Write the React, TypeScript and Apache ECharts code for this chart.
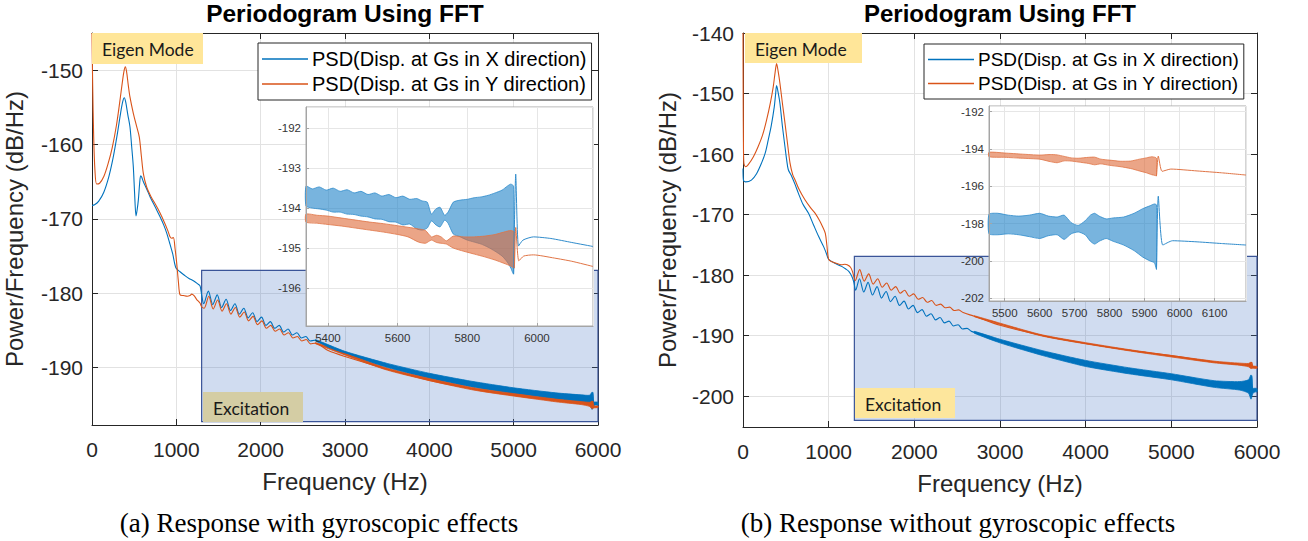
import React, { useEffect, useRef } from "react";
import * as echarts from "echarts";

const SANS = "'Liberation Sans', Arial, Helvetica, sans-serif";
const SERIF = "'Liberation Serif', 'Times New Roman', serif";
const NOTE = "Lato, 'Open Sans', sans-serif";
const BLUE = "#0072BD";
const ORANGE = "#D95319";
const INK = "#262626";

const NAME_X = "PSD(Disp. at Gs in X direction)";
const NAME_Y = "PSD(Disp. at Gs in Y direction)";
const TITLE = "Periodogram Using FFT";
const X_NAME = "Frequency (Hz)";
const Y_NAME = "Power/Frequency (dB/Hz)";
const CAPTION_A = "(a) Response with gyroscopic effects";
const CAPTION_B = "(b) Response without gyroscopic effects";
const EIGEN = "Eigen Mode";
const EXCITATION = "Excitation";

type P = [number, number];

// ---------- (a) with gyroscopic effects : main curves ----------
const aMainX: P[] = [
  [0, -168.2], [30, -168.1], [80, -167.6], [140, -166.4], [200, -164.3], [250, -161.8], [300, -158.6], [340, -155.7],
  [365, -154.2], [383, -153.7], [400, -154.3], [425, -156.0], [450, -157.6], [470, -160.2], [490, -163.0], [505, -166.5],
  [522, -169.6], [535, -168.8], [550, -167.4], [565, -165.2], [577, -164.2], [590, -164.4], [609, -165.0], [650, -166.0],
  [688, -167.0], [750, -168.4], [807, -169.7], [850, -170.8], [886, -171.9], [920, -173.2], [957, -174.7], [996, -176.6],
  [1044, -177.1], [1100, -177.6], [1150, -178.0], [1202, -178.3], [1250, -178.7], [1281, -179.0], [1300, -180.2],
  [1325, -181.4], [1380, -179.7], [1432, -181.5], [1485, -180.2], [1537, -181.9], [1590, -180.8], [1642, -182.3],
  [1695, -181.4], [1747, -182.8], [1800, -182.0], [1852, -183.3], [1905, -182.6], [1957, -183.8], [2010, -183.2],
  [2062, -184.3], [2115, -183.8], [2167, -184.7], [2220, -184.3], [2272, -185.2], [2325, -184.8], [2377, -185.6],
  [2430, -185.3], [2482, -186.0], [2535, -185.8], [2587, -186.4], [2640, -186.3],
  [2800, -187.2], [3000, -188.0], [3500, -189.7], [4000, -191.1], [4500, -192.2], [5000, -193.1], [5500, -193.8],
  [5900, -194.3], [5939, -193.3], [5950, -194.9], [6000, -194.85],
];
const aMainY: P[] = [
  [0, -145.0], [8, -152.0], [20, -159.0], [35, -163.5], [55, -165.3], [90, -165.2], [140, -164.3], [190, -162.6],
  [240, -160.4], [290, -157.4], [330, -154.2], [360, -151.6], [380, -150.1], [395, -149.55], [410, -150.2], [430, -152.0],
  [450, -153.6], [490, -155.8], [530, -157.6], [561, -159.0], [585, -161.5], [609, -163.9], [648, -165.7], [700, -167.0],
  [760, -168.2], [807, -169.2], [860, -170.5], [900, -171.6], [925, -172.4], [945, -172.6], [965, -172.5], [985, -174.0],
  [1004, -175.9], [1025, -178.5], [1044, -180.2], [1083, -180.3], [1130, -180.4], [1162, -180.3], [1182, -180.1],
  [1210, -180.3], [1240, -180.8], [1280, -181.3], [1300, -181.8],
  [1330, -182.0], [1385, -180.4], [1437, -182.1], [1490, -180.9], [1542, -182.4], [1595, -181.4], [1647, -182.8],
  [1700, -181.9], [1752, -183.2], [1805, -182.5], [1857, -183.7], [1910, -183.1], [1962, -184.2], [2015, -183.7],
  [2067, -184.7], [2120, -184.3], [2172, -185.1], [2225, -184.8], [2277, -185.6], [2330, -185.3], [2382, -186.0],
  [2435, -185.8], [2487, -186.4], [2540, -186.2], [2592, -186.8], [2645, -186.7],
  [2800, -187.7], [3000, -188.5], [3500, -190.2], [4000, -191.7], [4500, -192.8], [5000, -193.7], [5500, -194.4],
  [5900, -194.9], [5939, -194.5], [5950, -195.25], [6000, -195.25],
];
const aBandXF = [2650, 3000, 3500, 4000, 4500, 5000, 5500, 5800, 5900, 5930, 5950, 5975, 6000];
const aBandXHi = [-186.22, -187.8, -189.42, -190.75, -191.82, -192.7, -193.38, -193.65, -193.7, -193.3, -194.6, -194.6, -194.65];
const aBandXLo = [-186.42, -188.2, -189.98, -191.45, -192.58, -193.5, -194.22, -194.65, -194.9, -195.6, -195.1, -195.0, -195.05];
const aBandYF = [2650, 3500, 4500, 5500, 5800, 5900, 5930, 5950, 6000];
const aBandYHi = [-186.62, -190.08, -192.65, -194.22, -194.55, -194.65, -194.5, -195.1, -195.15];
const aBandYLo = [-186.78, -190.32, -192.95, -194.58, -194.95, -195.2, -195.5, -195.4, -195.35];
const aExcitation = [1300, 6000, -176.9, -197.25]; // f0, f1, top dB, bottom dB

// ---------- (a) inset ----------
const aInXF = [5337, 5355, 5375, 5395, 5415, 5435, 5455, 5475, 5495, 5515, 5535, 5555, 5575, 5595, 5615, 5635, 5655, 5670, 5685, 5697, 5710, 5722, 5735, 5745, 5760, 5780, 5800, 5820, 5840, 5860, 5880, 5900, 5915, 5925, 5933];
const aInXHi = [-193.45, -193.52, -193.47, -193.55, -193.5, -193.58, -193.54, -193.62, -193.58, -193.66, -193.62, -193.7, -193.66, -193.74, -193.7, -193.78, -193.76, -193.82, -193.85, -194.15, -194.02, -193.98, -194.18, -194.1, -193.85, -193.8, -193.78, -193.74, -193.72, -193.68, -193.62, -193.55, -193.45, -193.4, -193.45];
const aInXLo = [-193.95, -194.0, -194.02, -194.05, -194.1, -194.1, -194.15, -194.16, -194.2, -194.22, -194.27, -194.28, -194.34, -194.35, -194.42, -194.4, -194.52, -194.55, -194.5, -194.32, -194.42, -194.47, -194.3, -194.38, -194.65, -194.72, -194.8, -194.85, -194.9, -194.98, -195.08, -195.2, -195.35, -195.5, -195.65];
const aInYF = [5337, 5370, 5400, 5440, 5480, 5520, 5560, 5600, 5630, 5660, 5680, 5697, 5712, 5725, 5740, 5760, 5790, 5820, 5850, 5880, 5905, 5925, 5935];
const aInYHi = [-194.15, -194.18, -194.2, -194.25, -194.3, -194.35, -194.39, -194.44, -194.48, -194.52, -194.56, -194.72, -194.68, -194.72, -194.82, -194.7, -194.72, -194.72, -194.7, -194.66, -194.6, -194.56, -194.6];
const aInYLo = [-194.35, -194.38, -194.41, -194.45, -194.5, -194.55, -194.6, -194.66, -194.72, -194.85, -194.88, -194.8, -194.86, -194.88, -194.9, -195.0, -195.08, -195.15, -195.22, -195.3, -195.38, -195.45, -195.5];
const aInXTail: P[] = [[5933, -195.65], [5939.14, -193.15], [5947, -194.95], [5960, -194.8], [5990, -194.72], [6040, -194.76], [6100, -194.86], [6161, -194.96]];
const aInYTail: P[] = [[5935, -195.5], [5939.14, -194.485], [5948, -195.32], [5962, -195.2], [5990, -195.17], [6050, -195.25], [6100, -195.33], [6161, -195.46]];
const aInRange = [5337, 6161, -196.95, -191.47];

// ---------- (b) without gyroscopic effects : main curves ----------
const bMainX: P[] = [
  [0, -162.4], [5, -164.3], [30, -164.6], [98, -164.3], [160, -163.2], [216, -161.5], [260, -159.8], [294, -157.7],
  [330, -155.3], [365, -152.2], [380, -150.2], [392, -148.7], [410, -149.8], [431, -151.6], [460, -155.4], [490, -158.8],
  [510, -161.0], [529, -162.6], [569, -163.7], [610, -165.1], [647, -166.5], [700, -168.3], [765, -169.8], [820, -171.6],
  [882, -173.6], [941, -175.3], [970, -176.3], [1000, -177.4], [1080, -178.1], [1157, -178.6], [1200, -179.0],
  [1235, -179.4], [1270, -180.2], [1294, -181.2],
  [1315, -182.5], [1360, -180.6], [1410, -182.8], [1460, -181.2], [1512, -183.3], [1565, -181.9], [1617, -183.8],
  [1670, -182.7], [1722, -184.4], [1775, -183.5], [1827, -185.0], [1880, -184.3], [1932, -185.6], [1985, -185.0],
  [2037, -186.2], [2090, -185.7], [2142, -186.8], [2195, -186.4], [2247, -187.4], [2300, -187.0], [2352, -187.9],
  [2405, -187.6], [2457, -188.4], [2510, -188.2], [2562, -188.9], [2615, -188.8], [2667, -189.3],
  [2800, -189.9], [3000, -190.9], [3500, -192.9], [4000, -194.6], [4500, -195.8], [5000, -196.8], [5500, -198.0],
  [5900, -198.4], [5939, -196.6], [5952, -199.15], [6000, -199.0],
];
const bMainY: P[] = [
  [0, -140.0], [2, -150.0], [5, -158.0], [10, -161.5], [30, -162.1], [59, -161.8], [120, -160.5], [176, -158.8],
  [230, -156.8], [275, -154.4], [320, -151.5], [353, -148.9], [375, -146.5], [392, -145.05], [410, -146.3], [431, -148.3],
  [460, -151.6], [490, -154.9], [520, -158.3], [549, -161.5], [580, -163.4], [608, -164.3], [660, -166.0], [725, -167.6],
  [790, -168.9], [843, -169.8], [890, -170.9], [929, -172.0], [961, -173.1], [980, -175.2], [1000, -177.4],
  [1040, -177.8], [1078, -178.0], [1150, -178.3], [1190, -178.2], [1216, -178.3], [1255, -178.7], [1280, -179.5],
  [1310, -180.9], [1362, -179.1], [1415, -181.0], [1467, -179.8], [1520, -181.5], [1572, -180.6], [1625, -182.0],
  [1677, -181.3], [1730, -182.5], [1782, -181.9], [1835, -183.0], [1887, -182.5], [1940, -183.5], [1992, -183.1],
  [2045, -184.0], [2097, -183.7], [2150, -184.5], [2202, -184.2], [2255, -185.0], [2307, -184.8], [2360, -185.4],
  [2412, -185.3], [2465, -185.85], [2517, -185.75], [2570, -186.2],
  [2700, -186.8], [3000, -188.3], [3500, -190.0], [4000, -191.3], [4500, -192.4], [5000, -193.3], [5500, -194.35],
  [5900, -194.85], [5939, -194.4], [5952, -195.2], [6000, -195.25],
];
const bBandXF = [2700, 3000, 3500, 4000, 4500, 5000, 5500, 5800, 5900, 5930, 5950, 5975, 6000];
const bBandXHi = [-189.3, -190.6, -192.5, -194.1, -195.3, -196.3, -197.45, -197.6, -197.3, -196.5, -198.7, -198.7, -198.75];
const bBandXLo = [-189.6, -191.2, -193.3, -195.1, -196.3, -197.3, -198.55, -199.0, -199.5, -200.5, -199.6, -199.3, -199.3];
const bBandYF = [2700, 3500, 4500, 5500, 5800, 5900, 5930, 5950, 6000];
const bBandYHi = [-186.72, -189.9, -192.3, -194.22, -194.55, -194.6, -194.4, -195.0, -195.1];
const bBandYLo = [-186.88, -190.1, -192.5, -194.5, -194.9, -195.15, -195.45, -195.4, -195.4];
const bExcitation = [1300, 6000, -176.9, -204.0];

// ---------- (b) inset ----------
const bInYF = [5455, 5500, 5550, 5600, 5630, 5650, 5670, 5690, 5710, 5740, 5757, 5775, 5800, 5830, 5860, 5885, 5905, 5920, 5930, 5934];
const bInYHi = [-194.18, -194.22, -194.28, -194.33, -194.3, -194.32, -194.4, -194.48, -194.5, -194.45, -194.44, -194.55, -194.6, -194.66, -194.65, -194.55, -194.48, -194.42, -194.45, -194.5];
const bInYLo = [-194.42, -194.45, -194.5, -194.55, -194.68, -194.74, -194.64, -194.65, -194.7, -194.78, -194.85, -194.8, -194.88, -194.95, -195.05, -195.18, -195.28, -195.38, -195.42, -195.45];
const bInXF = [5455, 5480, 5510, 5540, 5570, 5600, 5625, 5650, 5670, 5690, 5710, 5730, 5745, 5757, 5770, 5790, 5810, 5840, 5870, 5895, 5915, 5928, 5934];
const bInXHi = [-197.5, -197.45, -197.55, -197.6, -197.55, -197.45, -197.6, -197.65, -197.55, -197.95, -198.1, -197.85, -197.55, -197.45, -197.6, -197.75, -197.7, -197.65, -197.45, -197.2, -197.05, -196.95, -197.0];
const bInXLo = [-198.55, -198.6, -198.55, -198.6, -198.7, -198.8, -198.65, -198.6, -198.85, -198.55, -198.45, -198.6, -198.95, -199.1, -198.95, -198.8, -198.95, -199.15, -199.45, -199.8, -200.0, -200.1, -200.45];
const bInXTail: P[] = [[5934, -200.45], [5939.14, -196.535], [5952, -199.15], [5980, -198.92], [6050, -198.98], [6120, -199.07], [6190, -199.15]];
const bInYTail: P[] = [[5934, -195.45], [5939.14, -194.386], [5950, -195.2], [5975, -195.08], [6050, -195.18], [6120, -195.28], [6190, -195.4]];
const bInRange = [5455, 6190, -202.15, -191.7];

// data tips
const TIP_F = 5939.14;
const tipA = [-193.15, -194.485]; // X, Y
const tipB = [-196.535, -194.386]; // X, Y

// main axis ranges
const aMainRange = [0, 6000, -197.7, -145];
const bMainRange = [0, 6000, -205.1, -140];

const plain = (v: number) => String(v);

function band(name: string, xi: number, f: number[], hi: number[], lo: number[], fill: string, stroke: string, z: number) {
  return {
    type: "custom",
    name,
    coordinateSystem: "cartesian2d",
    xAxisIndex: xi,
    yAxisIndex: xi,
    z,
    silent: true,
    data: [[f[0], hi[0]]],
    encode: { x: 0, y: 1 },
    renderItem: (_p: any, api: any) => {
      const pts: number[][] = [];
      for (let i = 0; i < f.length; i++) pts.push(api.coord([f[i], hi[i]]));
      for (let i = f.length - 1; i >= 0; i--) pts.push(api.coord([f[i], lo[i]]));
      return { type: "polygon", shape: { points: pts, smooth: 0.2 }, style: { fill, stroke, lineWidth: 0.8 } };
    },
  };
}

function line(name: string, xi: number, data: P[], color: string, z: number, width = 1.1, extra: any = {}) {
  return {
    type: "line",
    name,
    xAxisIndex: xi,
    yAxisIndex: xi,
    data,
    symbol: "none",
    showSymbol: false,
    smooth: 0.3,
    z,
    color,
    lineStyle: { color, width },
    itemStyle: { color },
    silent: true,
    ...extra,
  };
}

function tip(value: number, below: boolean) {
  return {
    symbol: "circle",
    symbolSize: 4,
    silent: true,
    itemStyle: { color: "#111" },
    data: [
      {
        coord: [TIP_F, value],
        label: {
          show: true,
          position: below ? [3, 3] : [3, -30],
          formatter: `{a|X} {b|${TIP_F}}\n{a|Y} {b|${value}}`,
          backgroundColor: "#fff",
          borderColor: "#c9c9c9",
          borderWidth: 1,
          padding: [3, 6, 3, 5],
          shadowColor: "rgba(0,0,0,0.15)",
          shadowBlur: 2,
          rich: {
            a: { fontSize: 8.5, color: "#555", fontFamily: SANS, lineHeight: 12 },
            b: { fontSize: 8.5, color: "#1e8ff0", fontWeight: "bold", fontFamily: SANS, lineHeight: 12 },
          },
        },
      },
    ],
  };
}

function excitation(name: string, xi: number, r: number[]) {
  return {
    type: "line",
    name,
    xAxisIndex: xi,
    yAxisIndex: xi,
    data: [],
    z: 1,
    silent: true,
    markArea: {
      silent: true,
      itemStyle: { color: "rgba(68,114,196,0.25)", borderColor: "#3a5498", borderWidth: 1.2 },
      data: [[{ coord: [r[0], r[2]] }, { coord: [r[1], r[3]] }]],
    },
  };
}

function mainX(gi: number, r: number[]) {
  return {
    type: "value",
    gridIndex: gi,
    min: r[0],
    max: r[1],
    interval: 1000,
    name: X_NAME,
    nameLocation: "middle",
    nameGap: 44,
    nameTextStyle: { fontSize: 24, color: INK, fontFamily: SANS },
    axisLine: { show: true, onZero: false, lineStyle: { color: INK, width: 1 } },
    axisTick: { show: true, inside: true, length: 6, lineStyle: { color: INK } },
    axisLabel: { fontSize: 21, color: INK, margin: 14, fontFamily: SANS, formatter: plain },
    splitLine: { show: true, lineStyle: { color: "#e2e2e2", width: 1 } },
  };
}
function mainXTop(gi: number, r: number[]) {
  return {
    type: "value",
    gridIndex: gi,
    position: "top",
    min: r[0],
    max: r[1],
    interval: 1000,
    axisLine: { show: true, onZero: false, lineStyle: { color: INK, width: 1 } },
    axisTick: { show: true, inside: true, length: 6, lineStyle: { color: INK } },
    axisLabel: { show: false },
    splitLine: { show: false },
  };
}
function mainY(gi: number, r: number[], showMax: boolean, gap: number) {
  return {
    type: "value",
    gridIndex: gi,
    min: r[2],
    max: r[3],
    name: Y_NAME,
    nameLocation: "middle",
    nameGap: gap,
    nameTextStyle: { fontSize: 24, color: INK, fontFamily: SANS },
    axisLine: { show: true, onZero: false, lineStyle: { color: INK, width: 1 } },
    axisTick: { show: true, inside: true, length: 6, lineStyle: { color: INK } },
    axisLabel: { fontSize: 21, color: INK, margin: 9, fontFamily: SANS, showMinLabel: false, showMaxLabel: showMax, formatter: plain },
    splitLine: { show: true, lineStyle: { color: "#e2e2e2", width: 1 } },
  };
}
function mainYRight(gi: number, r: number[]) {
  return {
    type: "value",
    gridIndex: gi,
    position: "right",
    min: r[2],
    max: r[3],
    axisLine: { show: true, onZero: false, lineStyle: { color: INK, width: 1 } },
    axisTick: { show: true, inside: true, length: 6, lineStyle: { color: INK } },
    axisLabel: { show: false },
    splitLine: { show: false },
  };
}
function insetX(gi: number, r: number[]) {
  return {
    type: "value",
    gridIndex: gi,
    min: r[0],
    max: r[1],
    z: 12,
    axisLine: { show: true, onZero: false, lineStyle: { color: "#a5a5a5" } },
    axisTick: { show: true, inside: true, length: 3, lineStyle: { color: "#a5a5a5" } },
    axisLabel: { fontSize: 11.5, color: "#333", margin: 6, fontFamily: SANS, showMinLabel: false, showMaxLabel: false, formatter: plain },
    splitLine: { show: true, lineStyle: { color: "#e6e6e6" } },
  };
}
function insetY(gi: number, r: number[]) {
  return {
    type: "value",
    gridIndex: gi,
    min: r[2],
    max: r[3],
    z: 12,
    axisLine: { show: true, onZero: false, lineStyle: { color: "#a5a5a5" } },
    axisTick: { show: true, inside: true, length: 3, lineStyle: { color: "#a5a5a5" } },
    axisLabel: { fontSize: 11.5, color: "#333", margin: 5, fontFamily: SANS, showMinLabel: false, showMaxLabel: false, formatter: plain },
    splitLine: { show: true, lineStyle: { color: "#e6e6e6" } },
  };
}

function note(x: number, y: number, w: number, h: number, fill: string, text: string) {
  return {
    type: "group",
    z: 6,
    children: [
      { type: "rect", z: 6, shape: { x, y, width: w, height: h }, style: { fill } },
      {
        type: "text",
        z: 7,
        x: x + 10,
        y: y + h / 2 + 1,
        style: { text, fontSize: 17.5, fontFamily: NOTE, fill: "#1a1a1a", verticalAlign: "middle", textVerticalAlign: "middle" },
      },
    ],
  };
}

function legend(left: number, top: number, fontSize: number) {
  return {
    left,
    top,
    orient: "vertical",
    data: [NAME_X, NAME_Y],
    backgroundColor: "#fff",
    borderColor: INK,
    borderWidth: 1,
    borderRadius: 0,
    padding: [6, 5, 6, 4],
    itemGap: 5,
    itemWidth: 46,
    itemHeight: 1.3,
    icon: "rect",
    selectedMode: false,
    textStyle: { fontSize, color: "#000", fontFamily: SANS, padding: [0, 0, 0, -1] },
  };
}

function buildOption() {
  return {
    animation: false,
    backgroundColor: "#fff",
    textStyle: { fontFamily: SANS },
    title: [
      { text: TITLE, left: 345, top: 1, padding: 0, textAlign: "center", textStyle: { fontSize: 24.5, fontWeight: "bold", color: "#000", fontFamily: SANS } },
      { text: TITLE, left: 1000, top: 1, padding: 0, textAlign: "center", textStyle: { fontSize: 24, fontWeight: "bold", color: "#000", fontFamily: SANS } },
    ],
    legend: [legend(258, 43, 20), legend(924, 44, 19)],
    grid: [
      { left: 92, top: 33, width: 506, height: 392 },
      { left: 306, top: 107, width: 287, height: 219, show: true, backgroundColor: "#fff", borderColor: "#a8a8a8", borderWidth: 1, z: 10 },
      { left: 743, top: 33, width: 514, height: 394 },
      { left: 989, top: 106, width: 257, height: 195, show: true, backgroundColor: "#fff", borderColor: "#a8a8a8", borderWidth: 1, z: 10 },
    ],
    xAxis: [
      mainX(0, aMainRange),
      insetX(1, aInRange),
      mainX(2, bMainRange),
      insetX(3, bInRange),
      mainXTop(0, aMainRange),
      mainXTop(2, bMainRange),
    ],
    yAxis: [
      mainY(0, aMainRange, false, 66),
      insetY(1, aInRange),
      mainY(2, bMainRange, true, 64),
      insetY(3, bInRange),
      mainYRight(0, aMainRange),
      mainYRight(2, bMainRange),
    ],
    graphic: [
      note(92, 33, 111, 31, "#ffe699", EIGEN),
      note(745, 33, 117, 30, "#ffe699", EIGEN),
      note(203, 392, 100, 30, "#d4cda4", EXCITATION),
      note(855, 388, 100, 30, "#fde69c", EXCITATION),
      {
        type: "text",
        x: 319,
        y: 523,
        style: { text: CAPTION_A, fontSize: 27, fontFamily: SERIF, fill: "#000", align: "center", textAlign: "center", verticalAlign: "middle", textVerticalAlign: "middle" },
      },
      {
        type: "text",
        x: 958,
        y: 523,
        style: { text: CAPTION_B, fontSize: 27, fontFamily: SERIF, fill: "#000", align: "center", textAlign: "center", verticalAlign: "middle", textVerticalAlign: "middle" },
      },
    ],
    series: [
      excitation("excA", 0, aExcitation),
      excitation("excB", 2, bExcitation),
      // (a) main
      band("aBandX", 0, aBandXF, aBandXHi, aBandXLo, BLUE, BLUE, 3),
      line(NAME_X, 0, aMainX, BLUE, 3),
      band("aBandY", 0, aBandYF, aBandYHi, aBandYLo, ORANGE, ORANGE, 3),
      line(NAME_Y, 0, aMainY, ORANGE, 3),
      // (b) main
      band("bBandX", 2, bBandXF, bBandXHi, bBandXLo, BLUE, BLUE, 3),
      line(NAME_X, 2, bMainX, BLUE, 3),
      band("bBandY", 2, bBandYF, bBandYHi, bBandYLo, ORANGE, ORANGE, 3),
      line(NAME_Y, 2, bMainY, ORANGE, 3),
      // (a) inset
      band("aInX", 1, aInXF, aInXHi, aInXLo, "rgba(30,130,200,0.6)", "#2f8bcb", 12),
      line("aInXTail", 1, aInXTail, "#2f8bcb", 12, 1, { smooth: 0.2, markPoint: tip(tipA[0], false) }),
      band("aInY", 1, aInYF, aInYHi, aInYLo, "rgba(222,105,55,0.6)", "#e07445", 12),
      line("aInYTail", 1, aInYTail, "#e07445", 12, 1, { smooth: 0.2, markPoint: tip(tipA[1], false) }),
      // (b) inset
      band("bInY", 3, bInYF, bInYHi, bInYLo, "rgba(222,105,55,0.6)", "#e07445", 12),
      line("bInYTail", 3, bInYTail, "#e07445", 12, 1, { smooth: 0.2, markPoint: tip(tipB[1], false) }),
      band("bInX", 3, bInXF, bInXHi, bInXLo, "rgba(30,130,200,0.6)", "#2f8bcb", 12),
      line("bInXTail", 3, bInXTail, "#2f8bcb", 12, 1, { smooth: 0.2, markPoint: tip(tipB[0], true) }),
    ],
  };
}

export default function App() {
  const ref = useRef<HTMLDivElement>(null);
  useEffect(() => {
    if (!ref.current) return;
    const chart = echarts.init(ref.current, null, { renderer: "svg" });
    chart.setOption(buildOption() as any);
    return () => chart.dispose();
  }, []);
  return (
    <div
      ref={ref}
      style={{ position: "fixed", left: 0, top: 0, width: 1308, height: 541, background: "#fff" }}
    />
  );
}
